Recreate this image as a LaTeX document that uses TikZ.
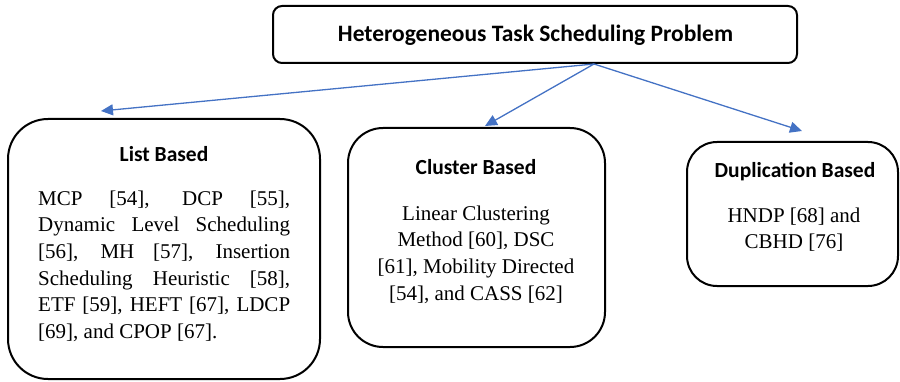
\documentclass[tikz,border=0pt]{standalone}
\usepackage{fontspec}
\setmainfont{Liberation Serif}
\newfontfamily\headfont{Carlito}
\usetikzlibrary{arrows.meta}
\definecolor{linkblue}{HTML}{4472C4}
\tikzset{
  x=1pt, y=1pt,
  box/.style={draw=black, line width=2pt, rounded corners=#1, inner sep=0pt},
  head/.style={font=\headfont\bfseries\fontsize{21.5}{25}\selectfont, anchor=base, inner sep=0pt},
  body/.style={font=\fontsize{21}{26.7}\selectfont, inner sep=0pt},
  link/.style={draw=linkblue, line width=1.3pt, -{Triangle[length=12pt,width=11pt]}}
}
\begin{document}
\begin{tikzpicture}
\useasboundingbox (0,0) rectangle (900,381);

% boxes
\node[box=9pt, minimum width=524pt, minimum height=57pt] (top) at (535,346.5) {};
\node[box=40pt, minimum width=312pt, minimum height=260pt] (list) at (164,132) {};
\node[box=35pt, minimum width=257pt, minimum height=219pt] (cluster) at (476.5,143.5) {};
\node[box=30pt, minimum width=211pt, minimum height=144pt] (dup) at (792.5,167) {};

% titles
\node[head, font=\headfont\bfseries\fontsize{23.5}{27}\selectfont] (toptitle) at (535.5,339) {Heterogeneous Task Scheduling Problem};
\node[head] (listtitle) at (164,220) {List Based};
\node[head] (clustertitle) at (476,207) {Cluster Based};
\node[head] (duptitle) at (795,204) {Duplication Based};

% body texts
\node[body, anchor=base west] (listtext) at (38,176) {\parbox[t]{252pt}{%
  \makebox[252pt][s]{MCP [54], DCP [55],}\\
  \makebox[252pt][s]{Dynamic Level Scheduling}\\
  \makebox[252pt][s]{[56], MH [57], Insertion}\\
  \makebox[252pt][s]{Scheduling Heuristic [58],}\\
  \makebox[252pt][s]{ETF [59], HEFT [67], LDCP}\\\relax
  [69], and CPOP [67].}};
\node[body, anchor=base] (clustertext) at (476,161) {\parbox[t]{240pt}{\centering
  Linear Clustering\\ Method [60], DSC\\\relax [61], Mobility Directed\\\relax [54], and CASS [62]}};
\node[body, anchor=base] (duptext) at (794,159) {\parbox[t]{200pt}{\centering
  HNDP [68] and\\ CBHD [76]}};

% connectors
\coordinate (src) at ([xshift=59pt]top.south);
\draw[link] (src) -- ([xshift=94pt, yshift=7pt]list.north west);
\draw[link] (src) -- ([xshift=138pt, yshift=1pt]cluster.north west);
\draw[link] (src) -- ([xshift=116pt, yshift=10pt]dup.north west);
\end{tikzpicture}
\end{document}
